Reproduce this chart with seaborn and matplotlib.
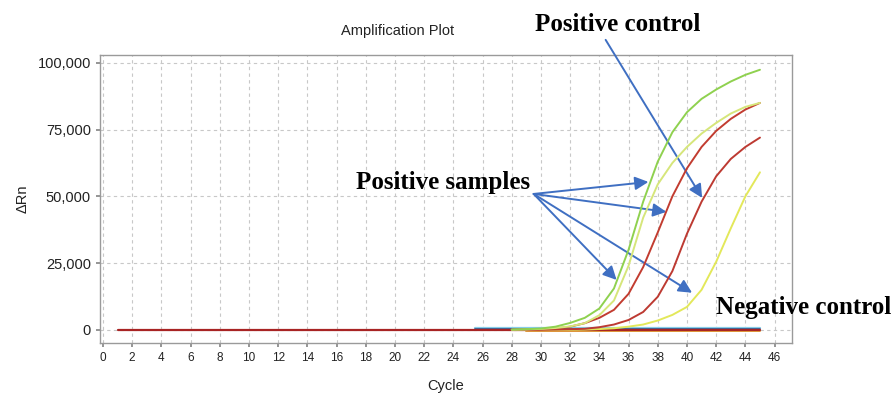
import pandas as pd
import matplotlib.pyplot as plt
import matplotlib.ticker as mticker
import seaborn as sns

# cycles 28..45 for the rising curves
cycles = list(range(28, 46))

green = [100, 250, 500, 1200, 2600, 4500, 8000, 15500, 30000, 48000,
         63000, 74000, 81500, 86500, 90000, 93000, 95500, 97400]
yellow_green = [50, 150, 350, 700, 1300, 2500, 5500, 11000, 24000, 42000,
                54500, 62500, 68500, 73500, 77500, 81000, 83500, 85000]
red_1 = [0, 100, 250, 500, 1200, 2500, 4500, 7500, 13500, 23500,
         36500, 50000, 60500, 68500, 74500, 79000, 82500, 85000]
red_2 = [0, 0, 50, 150, 250, 400, 1000, 2000, 3700, 6700,
         12400, 22000, 36000, 48000, 57500, 64000, 68500, 72000]
yellow = [0, 0, 0, 0, 0, 100, 300, 600, 1200, 2000,
          3500, 5600, 8600, 15000, 25500, 38000, 50000, 59000]

# flat negative-control / baseline traces (start, end cycle; level)
baseline_cycles = [1, 45]
baseline_vals = [0, 0]
neg_cycles = [25.5, 45]
neg_light_blue = [700, 700]
neg_dark_blue = [300, 300]
neg_orange_cycles = [29, 45]
neg_orange = [-400, -400]

x_ticks = list(range(0, 47, 2))
y_ticks = [0, 25000, 50000, 75000, 100000]

sns.set_theme(style="white")
plt.rcParams["font.family"] = ["Liberation Sans", "DejaVu Sans"]

fig = plt.figure(figsize=(8.93, 4.03), dpi=100)
ax = fig.add_axes([0.112, 0.149, 0.775, 0.715])

def draw(xs, ys, color, lw=1.4, z=2):
    df = pd.DataFrame({"cycle": xs, "drn": ys})
    sns.lineplot(data=df, x="cycle", y="drn", ax=ax, color=color, lw=lw, zorder=z)

draw(neg_cycles, neg_light_blue, "#86cde8", lw=1.6, z=2)
draw(neg_cycles, neg_dark_blue, "#34558f", lw=1.2, z=2)
draw(neg_orange_cycles, neg_orange, "#e5a23a", lw=1.4, z=2)
draw(baseline_cycles, baseline_vals, "#a82424", lw=1.6, z=3)
draw(cycles, yellow, "#e3e85a", z=4)
draw(cycles, red_2, "#bd3a32", z=4)
draw(cycles, red_1, "#c23c30", z=4)
draw(cycles, yellow_green, "#d6e67a", z=4)
draw(cycles, green, "#8fd14f", z=4)

ax.set_xlim(-0.2, 47.2)
ax.set_ylim(-4900, 103000)
ax.set_xticks(x_ticks)
ax.set_yticks(y_ticks)
ax.yaxis.set_major_formatter(mticker.StrMethodFormatter("{x:,.0f}"))
ax.tick_params(axis="x", labelsize=8.5, length=3, color="#888888", colors="#222222", bottom=True)
ax.tick_params(axis="y", labelsize=10.5, length=3, color="#888888", colors="#222222", left=True)
ax.grid(True, color="#c8c8c8", linestyle=(0, (3, 3)), lw=0.8)
for s in ax.spines.values():
    s.set_color("#9a9a9a")
    s.set_linewidth(1)

ax.set_xlabel("Cycle", fontsize=10.5, color="#222222", labelpad=11)
ax.set_ylabel("ΔRn", fontsize=10.5, color="#222222", labelpad=6)
ax.set_title("Amplification Plot", fontsize=10.5, color="#222222", pad=14, x=0.43)

arrow = dict(arrowstyle="-|>", color="#3f6fc2", lw=1.4, mutation_scale=20, shrinkA=0, shrinkB=0)
origin = (29.5, 50900)
for tip in [(37.36, 55400), (38.59, 44200), (35.18, 18700), (40.35, 13900)]:
    ax.annotate("", xy=tip, xytext=origin, arrowprops=arrow, annotation_clip=False)
ax.annotate("", xy=(41.04, 49400), xytext=(34.43, 108600), arrowprops=arrow,
            annotation_clip=False)

serif = dict(family="Liberation Serif", fontweight="bold", fontsize=18, color="black")
fig.text(0.692, 0.938, "Positive control", ha="center", va="center", **serif)
fig.text(0.496, 0.548, "Positive samples", ha="center", va="center", **serif)
fig.text(0.900, 0.238, "Negative control", ha="center", va="center", **serif)

fig.savefig("out.png", dpi=100)
